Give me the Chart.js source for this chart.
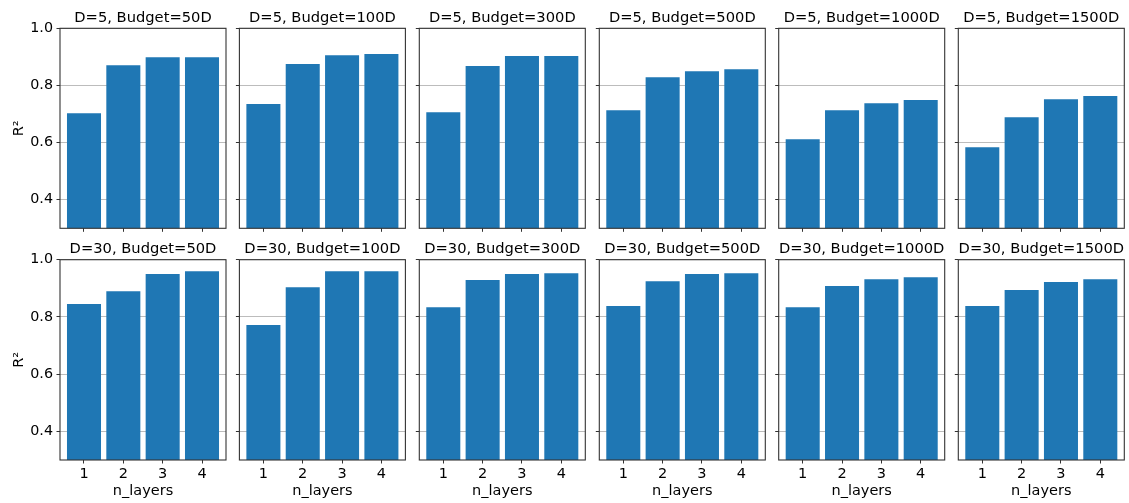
<!DOCTYPE html>
<html>
<head>
<meta charset="utf-8">
<script src="https://cdn.jsdelivr.net/npm/chart.js@4"></script>
<style>
html,body{margin:0;padding:0;background:#fff;}
body{width:1129px;height:503px;overflow:hidden;position:relative;}
canvas{position:absolute;}
</style>
</head>
<body>
<script>
// ---- data ----
const nLayers = [1, 2, 3, 4];
const yTicks = [0.4, 0.6, 0.8, 1.0];
const dims = [5, 30];
const budgets = ['50D', '100D', '300D', '500D', '1000D', '1500D'];

const r2_D5_50D    = [0.703, 0.871, 0.899, 0.899];
const r2_D5_100D   = [0.735, 0.875, 0.906, 0.910];
const r2_D5_300D   = [0.706, 0.868, 0.903, 0.903];
const r2_D5_500D   = [0.713, 0.829, 0.850, 0.857];
const r2_D5_1000D  = [0.612, 0.713, 0.738, 0.749];
const r2_D5_1500D  = [0.584, 0.689, 0.752, 0.763];

const r2_D30_50D   = [0.845, 0.890, 0.950, 0.960];
const r2_D30_100D  = [0.772, 0.904, 0.960, 0.960];
const r2_D30_300D  = [0.834, 0.929, 0.950, 0.953];
const r2_D30_500D  = [0.838, 0.925, 0.950, 0.953];
const r2_D30_1000D = [0.834, 0.908, 0.932, 0.939];
const r2_D30_1500D = [0.838, 0.894, 0.922, 0.932];

const seriesByDim = [
  [r2_D5_50D, r2_D5_100D, r2_D5_300D, r2_D5_500D, r2_D5_1000D, r2_D5_1500D],
  [r2_D30_50D, r2_D30_100D, r2_D30_300D, r2_D30_500D, r2_D30_1000D, r2_D30_1500D]
];

// ---- layout / style ----
const FONT = '"DejaVu Sans", sans-serif';
const BAR = '#1f77b4';
const colLeft = [60, 239.4, 419.3, 599.3, 778.7, 958.3];
const plotW = 166;
const rowTop = [28.3, 259.7];
const rowBottom = [228.3, 460];
const canvasTop = [6, 237];
const canvasBottom = [237, 503];
const TITLE_SIZE = 14.7, TITLE_LH = 1.2, TITLE_PB = 1.5;

const framePlugin = {
  id: 'frame',
  afterDraw(chart) {
    const a = chart.chartArea, ctx = chart.ctx;
    ctx.save();
    ctx.strokeStyle = '#333';
    ctx.lineWidth = 1.1;
    ctx.strokeRect(a.left, a.top, a.right - a.left, a.bottom - a.top);
    ctx.restore();
  }
};

dims.forEach((d, r) => {
  budgets.forEach((b, c) => {
    const L = colLeft[c];
    const cLeft = c === 0 ? 0 : Math.floor(L) - 10;
    const yW = L - cLeft;
    const cw = Math.ceil(yW + plotW + 3);
    const rightPad = cw - yW - plotW;
    const cTop = canvasTop[r];
    const ch = canvasBottom[r] - cTop;
    const xH = canvasBottom[r] - rowBottom[r];
    const padTop = rowTop[r] - cTop - TITLE_PB - TITLE_SIZE * TITLE_LH;

    const cv = document.createElement('canvas');
    cv.width = cw; cv.height = ch;
    cv.style.left = cLeft + 'px';
    cv.style.top = cTop + 'px';
    cv.style.width = cw + 'px';
    cv.style.height = ch + 'px';
    document.body.appendChild(cv);

    const vals = seriesByDim[r][c];
    new Chart(cv, {
      type: 'bar',
      data: {
        datasets: [{
          data: nLayers.map((n, i) => ({ x: n, y: vals[i] })),
          backgroundColor: BAR,
          borderWidth: 0,
          categoryPercentage: 1,
          barPercentage: 0.865
        }]
      },
      options: {
        responsive: false,
        animation: false,
        events: [],
        layout: { padding: { left: 0, right: rightPad, top: 0, bottom: 0 } },
        plugins: {
          legend: { display: false },
          tooltip: { enabled: false },
          title: {
            display: true,
            fullSize: false,
            text: 'D=' + d + ', Budget=' + b,
            color: '#000',
            font: { family: FONT, size: TITLE_SIZE, weight: 'normal', lineHeight: TITLE_LH },
            padding: { top: padTop, bottom: TITLE_PB }
          }
        },
        scales: {
          x: {
            type: 'linear',
            min: 0.39, max: 4.61,
            offset: false,
            afterBuildTicks: s => { s.ticks = nLayers.map(v => ({ value: v })); },
            ticks: {
              display: r === 1,
              color: '#000',
              font: { family: FONT, size: 14.5 },
              padding: 2.4,
              maxRotation: 0,
              autoSkip: false,
              callback: v => String(v)
            },
            grid: {
              display: true, drawOnChartArea: false, drawTicks: true,
              tickLength: 3.5, tickColor: '#333', tickWidth: 1, offset: false
            },
            border: { display: false },
            title: {
              display: r === 1,
              text: 'n_layers',
              color: '#000',
              font: { family: FONT, size: 14.5 },
              padding: { top: 0, bottom: 2.6 }
            },
            afterFit: s => { s.height = xH; s.paddingLeft = 0; s.paddingRight = 0; }
          },
          y: {
            type: 'linear',
            min: 0.3, max: 1.0,
            z: 1,
            afterBuildTicks: s => { s.ticks = yTicks.map(v => ({ value: v })); },
            ticks: {
              display: c === 0,
              color: '#000',
              font: { family: FONT, size: 14.3 },
              padding: 3.5,
              callback: v => Number(v).toFixed(1)
            },
            grid: {
              color: 'rgba(176,176,176,0.85)', lineWidth: 1,
              drawTicks: true, tickLength: 3.5, tickColor: '#333', tickWidth: 1
            },
            border: { display: false },
            title: {
              display: c === 0,
              text: 'R²',
              color: '#000',
              font: { family: FONT, size: 14.5 },
              padding: { top: 11, bottom: 0 }
            },
            afterFit: s => { s.width = yW; s.paddingTop = 0; s.paddingBottom = 0; }
          }
        }
      },
      plugins: [framePlugin]
    });
  });
});
</script>
</body>
</html>
